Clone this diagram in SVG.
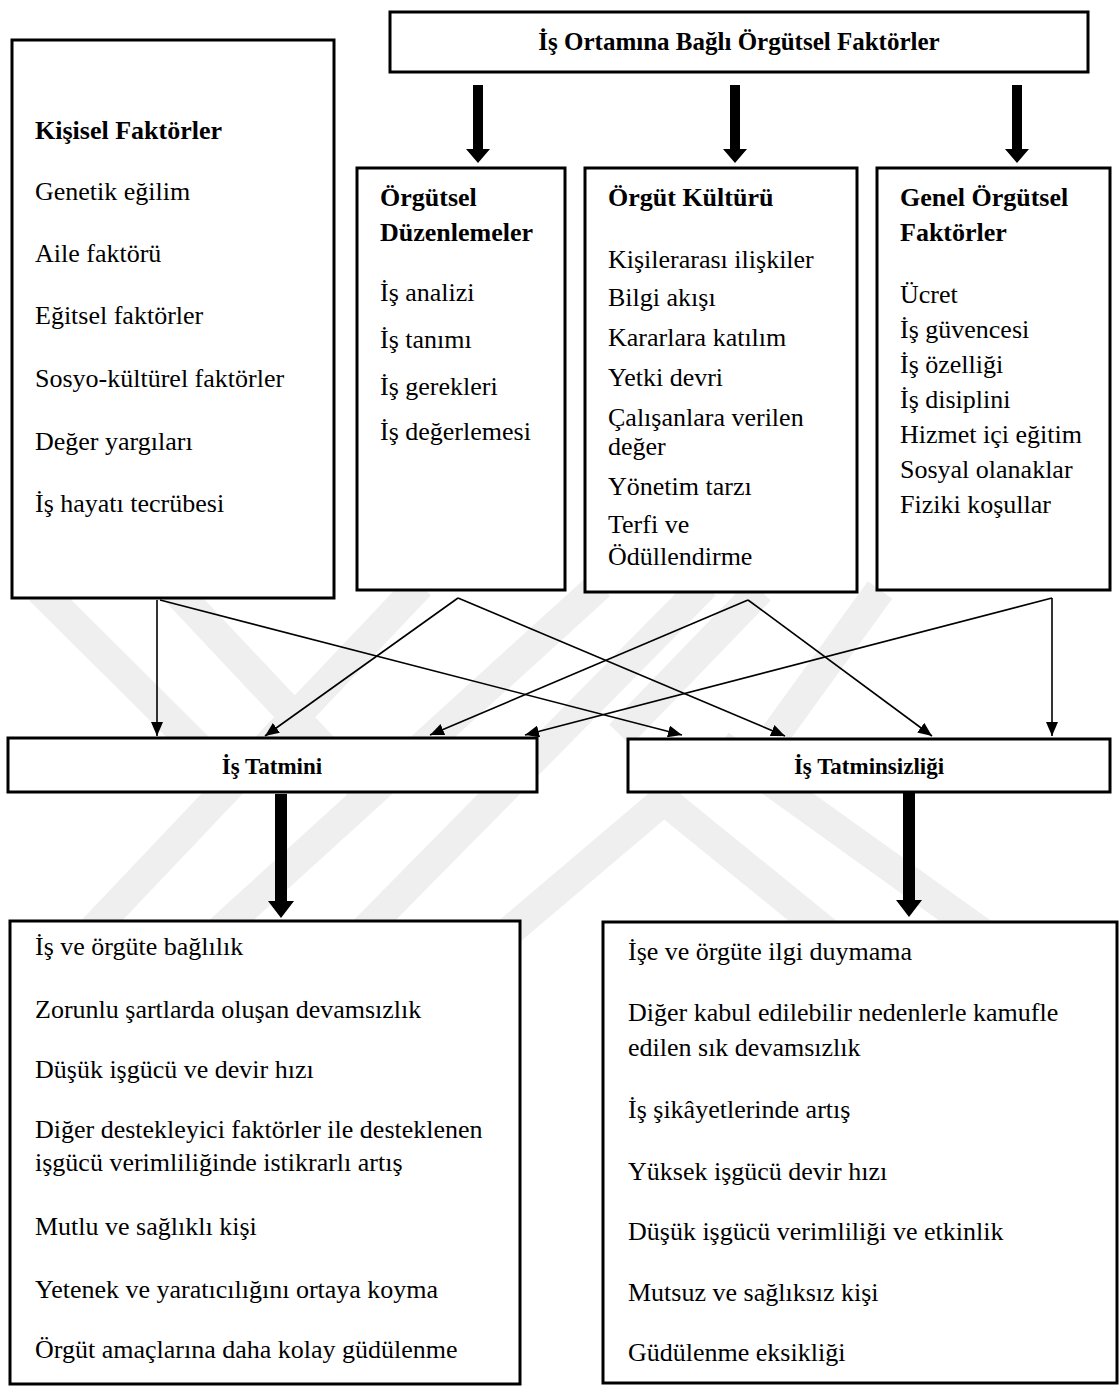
<svg xmlns="http://www.w3.org/2000/svg" width="1120" height="1392" viewBox="0 0 1120 1392">
<style>
.box{fill:#fff;stroke:#000;stroke-width:3}
.t{font-family:"Liberation Serif","Times New Roman",serif;font-size:26px;fill:#000}
.b{font-weight:bold}
.c{text-anchor:middle}
.conn{stroke:#000;stroke-width:1.6;fill:none}
.thick{fill:#000}
.wm{stroke:#efefef;stroke-width:30;fill:none;stroke-linecap:butt}
</style>
<defs>
<marker id="ah" markerUnits="userSpaceOnUse" markerWidth="14" markerHeight="12" refX="14" refY="6" orient="auto">
<path d="M0,0 L14,6 L0,12 z" fill="#000"/>
</marker>
</defs>
<rect width="1120" height="1392" fill="#fff"/>
<g id="watermark">
<path class="wm" d="M40,590 L232,781"/>
<path class="wm" d="M175,590 L367,794"/>
<path class="wm" d="M88,935 L420,585"/>
<path class="wm" d="M215,935 L600,585"/>
<path class="wm" d="M360,935 L705,585"/>
<path class="wm" d="M620,735 L760,590"/>
<path class="wm" d="M775,735 L880,590"/>
<path class="wm" d="M505,935 L664,800 L830,935"/>
<path class="wm" d="M720,745 L985,935"/>
</g>
<g id="connectors">
<path class="thick" d="M473,85 L483,85 L483,149 L490,149 L478,163 L466,149 L473,149 z"/>
<path class="thick" d="M730,85 L740,85 L740,149 L747,149 L735,163 L723,149 L730,149 z"/>
<path class="thick" d="M1012,85 L1022,85 L1022,149 L1029,149 L1017,163 L1005,149 L1012,149 z"/>
<path class="thick" d="M275,794 L287,794 L287,901 L294,901 L281,918 L268,901 L275,901 z"/>
<path class="thick" d="M903,793 L915,793 L915,900 L922,900 L909,917 L896,900 L903,900 z"/>
<line class="conn" x1="157" y1="600" x2="157" y2="736" marker-end="url(#ah)"/>
<line class="conn" x1="160" y1="600" x2="682" y2="735" marker-end="url(#ah)"/>
<line class="conn" x1="458" y1="598" x2="265" y2="736" marker-end="url(#ah)"/>
<line class="conn" x1="458" y1="598" x2="785" y2="736" marker-end="url(#ah)"/>
<line class="conn" x1="748" y1="600" x2="430" y2="735" marker-end="url(#ah)"/>
<line class="conn" x1="748" y1="600" x2="932" y2="736" marker-end="url(#ah)"/>
<line class="conn" x1="1052" y1="598" x2="525" y2="735" marker-end="url(#ah)"/>
<line class="conn" x1="1052" y1="598" x2="1052" y2="736" marker-end="url(#ah)"/>
</g>
<g id="top">
<rect class="box" x="390" y="12" width="698" height="60"/>
<text class="t b c" x="739" y="50" style="font-size:25px">İş Ortamına Bağlı Örgütsel Faktörler</text>
</g>
<g id="kisisel">
<rect class="box" x="12" y="40" width="322" height="558"/>
<text class="t b" x="35" y="139">Kişisel Faktörler</text>
<text class="t" x="35" y="200">Genetik eğilim</text>
<text class="t" x="35" y="262">Aile faktörü</text>
<text class="t" x="35" y="324">Eğitsel faktörler</text>
<text class="t" x="35" y="387">Sosyo-kültürel faktörler</text>
<text class="t" x="35" y="450">Değer yargıları</text>
<text class="t" x="35" y="512">İş hayatı tecrübesi</text>
</g>
<g id="duzenlemeler">
<rect class="box" x="357" y="168" width="208" height="422"/>
<text class="t b" x="380" y="206">Örgütsel</text>
<text class="t b" x="380" y="241">Düzenlemeler</text>
<text class="t" x="380" y="301">İş analizi</text>
<text class="t" x="380" y="348">İş tanımı</text>
<text class="t" x="380" y="395">İş gerekleri</text>
<text class="t" x="380" y="440">İş değerlemesi</text>
</g>
<g id="kultur">
<rect class="box" x="585" y="168" width="272" height="424"/>
<text class="t b" x="608" y="206">Örgüt Kültürü</text>
<text class="t" x="608" y="268">Kişilerarası ilişkiler</text>
<text class="t" x="608" y="306">Bilgi akışı</text>
<text class="t" x="608" y="346">Kararlara katılım</text>
<text class="t" x="608" y="386">Yetki devri</text>
<text class="t" x="608" y="426">Çalışanlara verilen</text>
<text class="t" x="608" y="455">değer</text>
<text class="t" x="608" y="495">Yönetim tarzı</text>
<text class="t" x="608" y="533">Terfi ve</text>
<text class="t" x="608" y="565">Ödüllendirme</text>
</g>
<g id="genel">
<rect class="box" x="877" y="168" width="233" height="422"/>
<text class="t b" x="900" y="206">Genel Örgütsel</text>
<text class="t b" x="900" y="241">Faktörler</text>
<text class="t" x="900" y="303">Ücret</text>
<text class="t" x="900" y="338">İş güvencesi</text>
<text class="t" x="900" y="373">İş özelliği</text>
<text class="t" x="900" y="408">İş disiplini</text>
<text class="t" x="900" y="443">Hizmet içi eğitim</text>
<text class="t" x="900" y="478">Sosyal olanaklar</text>
<text class="t" x="900" y="513">Fiziki koşullar</text>
</g>
<g id="tatmin">
<rect class="box" x="8" y="738" width="529" height="54"/>
<text class="t b c" x="272" y="774" style="font-size:23px">İş Tatmini</text>
</g>
<g id="tatminsizlik">
<rect class="box" x="628" y="739" width="482" height="53"/>
<text class="t b c" x="869" y="774" style="font-size:23px">İş Tatminsizliği</text>
</g>
<g id="sonuc-tatmin">
<rect class="box" x="10" y="921" width="510" height="463"/>
<text class="t" x="35" y="955">İş ve örgüte bağlılık</text>
<text class="t" x="35" y="1018">Zorunlu şartlarda oluşan devamsızlık</text>
<text class="t" x="35" y="1078">Düşük işgücü ve devir hızı</text>
<text class="t" x="35" y="1138">Diğer destekleyici faktörler ile desteklenen</text>
<text class="t" x="35" y="1171">işgücü verimliliğinde istikrarlı artış</text>
<text class="t" x="35" y="1235">Mutlu ve sağlıklı kişi</text>
<text class="t" x="35" y="1298">Yetenek ve yaratıcılığını ortaya koyma</text>
<text class="t" x="35" y="1358">Örgüt amaçlarına daha kolay güdülenme</text>
</g>
<g id="sonuc-tatminsizlik">
<rect class="box" x="603" y="922" width="514" height="461"/>
<text class="t" x="628" y="960">İşe ve örgüte ilgi duymama</text>
<text class="t" x="628" y="1021">Diğer kabul edilebilir nedenlerle kamufle</text>
<text class="t" x="628" y="1056">edilen sık devamsızlık</text>
<text class="t" x="628" y="1118">İş şikâyetlerinde artış</text>
<text class="t" x="628" y="1180">Yüksek işgücü devir hızı</text>
<text class="t" x="628" y="1240">Düşük işgücü verimliliği ve etkinlik</text>
<text class="t" x="628" y="1301">Mutsuz ve sağlıksız kişi</text>
<text class="t" x="628" y="1361">Güdülenme eksikliği</text>
</g>
</svg>
